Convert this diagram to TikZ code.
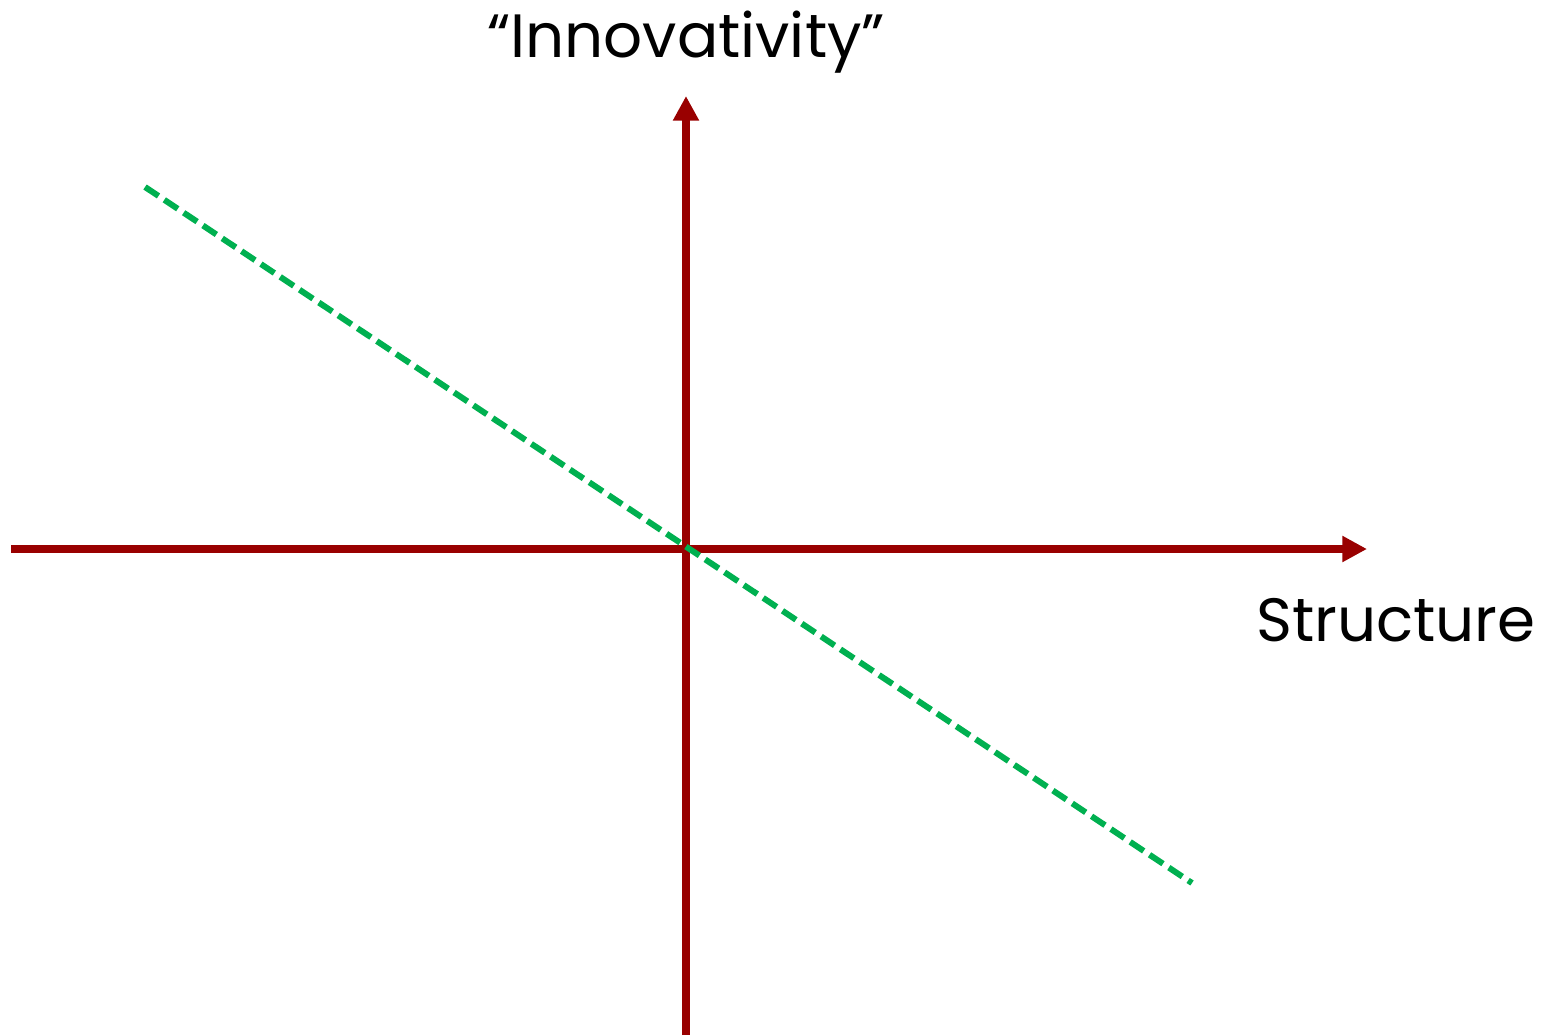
\documentclass[tikz,border=0pt]{standalone}
\usepackage{fontspec}
\setmainfont{Poppins}
\usetikzlibrary{arrows.meta}
\definecolor{axisred}{RGB}{153,0,0}
\definecolor{trendgreen}{RGB}{0,176,80}
\begin{document}
\begin{tikzpicture}[x=1cm,y=1cm,
  axis/.style={draw=axisred, line width=2.1pt, -{Triangle[length=7pt,width=7pt]}},
  trend/.style={draw=trendgreen, line width=1.7pt, dash pattern=on 4.6pt off 2pt},
  lbl/.style={font=\fontsize{17.4}{20}\selectfont, inner sep=0pt}]
\useasboundingbox (0,0) rectangle (15.47,10.35);
\coordinate (o) at (6.86,4.86);
\coordinate (xl) at (0.11,4.86);
\coordinate (xr) at (13.67,4.86);
\coordinate (yb) at (6.86,0);
\coordinate (yt) at (6.86,9.39);
\coordinate (gs) at (1.45,8.48);
\coordinate (ge) at (11.92,1.52);
\node[lbl, anchor=base] (inno) at (6.86,9.78) {“Innovativity”};
\node[lbl, anchor=base] (struc) at (13.96,3.94) {Structure};
\draw[axis] (xl) -- (xr);
\draw[axis] (yb) -- (yt);
\draw[trend] (gs) -- (ge);
\end{tikzpicture}
\end{document}
